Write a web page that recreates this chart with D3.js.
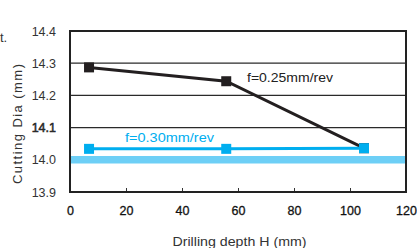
<!DOCTYPE html>
<html>
<head>
<meta charset="utf-8">
<script src="https://cdn.jsdelivr.net/npm/d3@7"></script>
<style>
  body { margin: 0; background: #fff; }
  svg { display: block; font-family: "Liberation Sans", Arial, sans-serif; }
</style>
</head>
<body>
<script>
const width = 417, height = 248;
const margin = {top: 31, right: 11, bottom: 56, left: 70};

// data
const depth = [6.8, 55.8, 105];
const diaF025 = [14.287, 14.244, 14.036];
const diaF030 = [14.034, 14.034, 14.036];
const xTicks = [0, 20, 40, 60, 80, 100, 120];
const yTicks = [13.9, 14.0, 14.1, 14.2, 14.3, 14.4];
const nominal = 14.0;

const svg = d3.select("body").append("svg")
    .attr("width", width)
    .attr("height", height);

const x = d3.scaleLinear().domain([0, 120]).range([margin.left, width - margin.right]);
const y = d3.scaleLinear().domain([13.9, 14.4]).range([height - margin.bottom, margin.top]);

// gridlines
svg.append("g")
    .selectAll("line")
    .data(yTicks.slice(1, -1))
    .join("line")
    .attr("x1", x(0)).attr("x2", x(120))
    .attr("y1", d => y(d)).attr("y2", d => y(d))
    .attr("stroke", "#2a2a2a")
    .attr("stroke-width", 1.3);

// nominal band, over the 14.0 gridline
svg.append("line")
    .attr("x1", x(0)).attr("x2", x(120))
    .attr("y1", y(nominal)).attr("y2", y(nominal))
    .attr("stroke", "#6dcff6")
    .attr("stroke-width", 7.5);

// x axis ticks inside the frame
svg.append("g")
    .attr("transform", `translate(0,${y(13.9)})`)
    .call(d3.axisBottom(x).tickValues(xTicks).tickSize(-4).tickPadding(14).tickFormat(d3.format("d")))
    .call(g => g.select(".domain").remove())
    .call(g => g.selectAll(".tick line").attr("stroke", "#333"))
    .call(g => g.selectAll("text").attr("fill", "#111").attr("font-size", 12.5)
        .attr("stroke", "#111").attr("stroke-width", 0.3));

// y axis labels
svg.append("g")
    .attr("transform", `translate(${x(0)},0)`)
    .call(d3.axisLeft(y).tickValues(yTicks).tickSize(0).tickPadding(14).tickFormat(d3.format(".1f")))
    .call(g => g.select(".domain").remove())
    .call(g => g.selectAll("text").attr("fill", "#333").attr("font-size", 12.5)
        .attr("stroke", d => d === 14.1 ? "#222" : "none").attr("stroke-width", 0.5));

// frame
svg.append("rect")
    .attr("x", x(0)).attr("y", y(14.4))
    .attr("width", x(120) - x(0)).attr("height", y(13.9) - y(14.4))
    .attr("fill", "none")
    .attr("stroke", "#222")
    .attr("stroke-width", 2);

const line = d3.line().x(d => x(d[0])).y(d => y(d[1]));

function series(vals, color) {
  const pts = depth.map((d, i) => [d, vals[i]]);
  svg.append("path")
      .attr("d", line(pts))
      .attr("fill", "none")
      .attr("stroke", color)
      .attr("stroke-width", 3);
  svg.append("g")
      .selectAll("rect")
      .data(pts)
      .join("rect")
      .attr("x", d => x(d[0]) - 5).attr("y", d => y(d[1]) - 5)
      .attr("width", 10).attr("height", 10)
      .attr("fill", color);
}

series(diaF025, "#231f20");
series(diaF030, "#00aeef");

svg.append("text")
    .attr("x", 247).attr("y", 82)
    .attr("font-size", 12.5).attr("fill", "#222")
    .attr("textLength", 86).attr("lengthAdjust", "spacingAndGlyphs")
    .text("f=0.25mm/rev");

svg.append("text")
    .attr("x", 125).attr("y", 141.5)
    .attr("font-size", 12.5).attr("fill", "#00aeef")
    .attr("textLength", 89).attr("lengthAdjust", "spacingAndGlyphs")
    .text("f=0.30mm/rev");

svg.append("text")
    .attr("transform", "translate(22,124) rotate(-90)")
    .attr("text-anchor", "middle")
    .attr("font-size", 13).attr("fill", "#333")
    .attr("textLength", 120).attr("lengthAdjust", "spacing")
    .text("Cutting Dia (mm)");

svg.append("text")
    .attr("x", 172.5).attr("y", 246)
    .attr("font-size", 13).attr("fill", "#333")
    .attr("textLength", 134).attr("lengthAdjust", "spacingAndGlyphs")
    .text("Drilling depth H (mm)");

svg.append("text")
    .attr("x", 0).attr("y", 42)
    .attr("font-size", 13).attr("fill", "#333")
    .text("t.");
</script>
</body>
</html>
